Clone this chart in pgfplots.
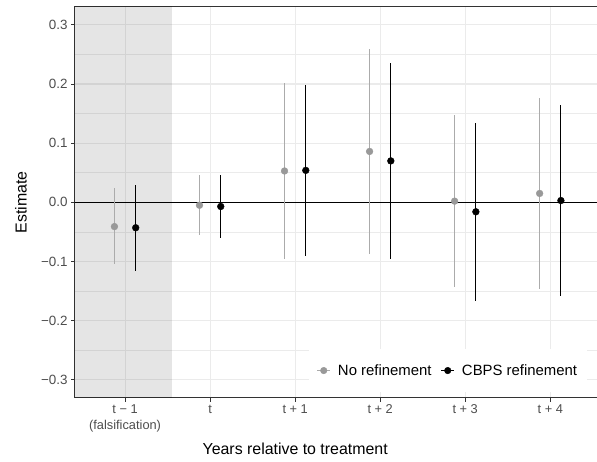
\documentclass[border=0pt]{standalone}
\usepackage{pgfplots}
\pgfplotsset{compat=1.18}
\usepackage{pgfplotstable}
\usepackage{fontspec}
\setmainfont{Liberation Sans}
\definecolor{gridc}{HTML}{EBEBEB}
\definecolor{axc}{HTML}{333333}
\definecolor{tickc}{HTML}{4D4D4D}
\definecolor{grayline}{HTML}{ABABAB}
\definecolor{graypt}{HTML}{999999}

\pgfplotstableread{
x y lo hi
0.875 -0.041 -0.105 0.024
1.875 -0.005 -0.055 0.046
2.875 0.053 -0.095 0.201
3.875 0.086 -0.088 0.259
4.875 0.002 -0.143 0.147
5.875 0.015 -0.147 0.177
}\graydata

\pgfplotstableread{
x y lo hi
1.125 -0.043 -0.116 0.030
2.125 -0.007 -0.061 0.047
3.125 0.054 -0.091 0.199
4.125 0.070 -0.096 0.235
5.125 -0.016 -0.166 0.134
6.125 0.003 -0.159 0.164
}\blackdata

\begin{document}
\begin{tikzpicture}
\begin{axis}[
  width=526.3pt, height=391.2pt, scale only axis,
  xmin=0.408, xmax=6.6, ymin=-0.3306, ymax=0.331,
  axis line style={axc, line width=1pt},
  xtick={1,2,3,4,5,6},
  xticklabels={{t − 1\\(falsification)}, t, t + 1, t + 2, t + 3, t + 4},
  xticklabel style={align=center, font=\fontsize{12.8}{15.3}\selectfont, text=tickc},
  ytick={-0.3,-0.2,-0.1,0,0.1,0.2,0.3},
  yticklabels={−0.3,−0.2,−0.1,0.0,0.1,0.2,0.3},
  yticklabel style={font=\fontsize{13.4}{15}\selectfont, text=tickc},
  minor ytick={-0.25,-0.15,-0.05,0.05,0.15,0.25},
  xmajorgrids, ymajorgrids, yminorgrids,
  major grid style={gridc, line width=1.1pt},
  minor grid style={gridc, line width=0.55pt},
  tick align=outside, major tick length=3.6pt, minor tick length=0pt,
  tick style={axc, line width=1pt},
  xtick pos=bottom, ytick pos=left,
  xlabel={Years relative to treatment},
  ylabel={Estimate},
  label style={font=\fontsize{15.9}{18}\selectfont},
  xlabel style={at={(axis description cs:0.4186,0)}, anchor=center, yshift=-51pt},
  ylabel style={at={(axis description cs:0,0.5)}, anchor=center, yshift=53.7pt},
  legend columns=2,
  legend style={at={(axis description cs:0.9741,0.0153)}, anchor=south east,
    draw=none, fill=white, font=\fontsize{14.9}{17}\selectfont,
    inner xsep=8.3pt, inner ysep=13pt,
    nodes={inner sep=2pt},
    /tikz/every even column/.append style={column sep=7.3pt}},
]
\addplot[fill=black, fill opacity=0.1, draw=none, forget plot]
  coordinates {(0.3,-0.4) (1.553,-0.4) (1.553,0.4) (0.3,0.4)} -- cycle;
\addplot[black, line width=0.7pt, forget plot] coordinates {(0.3,0) (7,0)};

\addplot[only marks, mark=*, mark size=3.4pt, mark options={fill=graypt, draw=graypt},
  legend image code/.code={\draw[grayline, line width=1pt] (0pt,0pt) -- (12.7pt,0pt);
    \fill[graypt] (6.35pt,0pt) circle (3.3pt); \path (18.4pt,0pt);},
  error bars/.cd, y dir=both, y explicit, error mark=none,
  error bar style={grayline, line width=1pt}]
  table[x=x, y=y, y error plus expr=\thisrow{hi}-\thisrow{y}, y error minus expr=\thisrow{y}-\thisrow{lo}] {\graydata};
\addlegendentry{No refinement}
\addplot[only marks, mark=*, mark size=3.4pt, mark options={fill=black, draw=black},
  legend image code/.code={\draw[black, line width=0.9pt] (0pt,0pt) -- (12.7pt,0pt);
    \fill[black] (6.35pt,0pt) circle (3.3pt); \path (18.4pt,0pt);},
  error bars/.cd, y dir=both, y explicit, error mark=none,
  error bar style={black, line width=0.9pt}]
  table[x=x, y=y, y error plus expr=\thisrow{hi}-\thisrow{y}, y error minus expr=\thisrow{y}-\thisrow{lo}] {\blackdata};
\addlegendentry{CBPS refinement}
\coordinate (ll) at (rel axis cs:0,0);
\coordinate (ur) at (rel axis cs:1,1);
\end{axis}
\pgfresetboundingbox
\useasboundingbox ([xshift=-74.7pt,yshift=-63.3pt]ll) rectangle ([xshift=-4.3pt,yshift=6.5pt]ur);
\end{tikzpicture}
\end{document}
